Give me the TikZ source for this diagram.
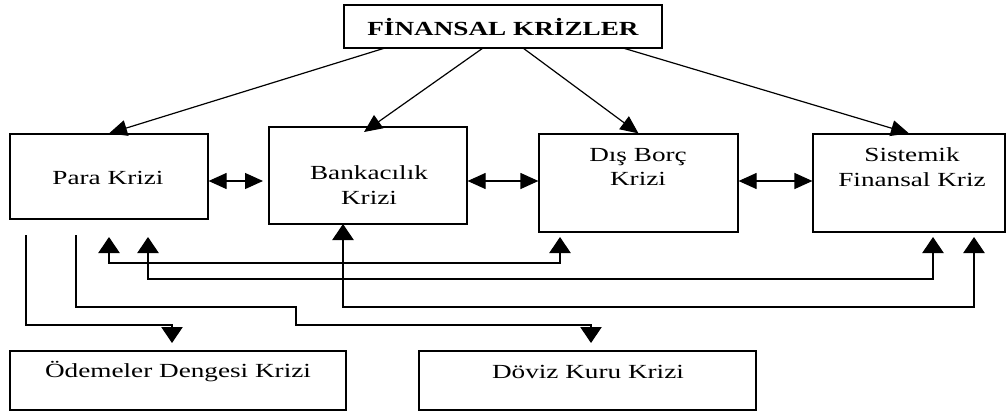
\documentclass[tikz,border=0pt]{standalone}
\usepackage{fontspec}
\setmainfont[FakeStretch=1.36]{Liberation Serif}
\usetikzlibrary{arrows.meta,fit}
\begin{document}
\begin{tikzpicture}[x=0.75pt,y=-0.75pt,
  box/.style={draw,line width=0.9pt,inner sep=0pt},
  lbl/.style={font=\fontsize{15}{18.5}\selectfont,align=center,inner sep=0pt},
  vtip/.tip={Triangle[length=12pt,width=16pt]},
  htip/.tip={Triangle[length=13.5pt,width=12pt]},
  dtip/.tip={Triangle[length=13.5pt,width=12pt]},
  dconn/.style={line width=0.9pt,-dtip},
  hconn/.style={line width=0.9pt,htip-htip},
  vconn/.style={line width=0.9pt,-vtip},
  vdconn/.style={line width=0.9pt,vtip-vtip}]
\useasboundingbox (0,0) rectangle (1006,414);
% boxes
\node[box,fit={(344,5) (662,48)}] (top) {};
\node[box,fit={(10,134) (208,219)}] (para) {};
\node[box,fit={(269,127) (467,224)}] (bank) {};
\node[box,fit={(539,134) (738,232)}] (dis) {};
\node[box,fit={(813,134) (1005,232)}] (sist) {};
\node[box,fit={(10,351) (346,410)}] (odeme) {};
\node[box,fit={(419,351) (756,410)}] (doviz) {};
% labels
\node[lbl,font=\fontsize{15}{18.5}\selectfont\bfseries] (ttop) at (503,27) {FİNANSAL KRİZLER};
\node[lbl] (tpara) at (108,178) {Para Krizi};
\node[lbl] (tbank) at (369,185) {Bankacılık\\Krizi};
\node[lbl] (tdis) at (638,167) {Dış Borç\\Krizi};
\node[lbl] (tsist) at (912,167) {Sistemik\\Finansal Kriz};
\node[lbl] (todeme) at (178,372) {Ödemeler Dengesi Krizi};
\node[lbl] (tdoviz) at (588,372) {Döviz Kuru Krizi};
% top arrows
\coordinate (t1) at (385,48);
\coordinate (t2) at (483,48);
\coordinate (t3) at (523,48);
\coordinate (t4) at (623,48);
\coordinate (b2) at (364,132);
\draw[dconn] (t1) -- (para.north);
\draw[dconn] (t2) -- (b2);
\draw[dconn] (t3) -- (dis.north);
\draw[dconn] (t4) -- (sist.north);
% horizontal double arrows
\coordinate (h) at (0,181);
\coordinate (bw) at (263,181);
\draw[hconn] (para.east |- h) -- (bw);
\draw[hconn] (bank.east |- h) -- (dis.west |- h);
\draw[hconn] (dis.east |- h) -- (sist.west |- h);
% lower connectors
\coordinate (a1) at (26,235);
\coordinate (e1) at (172,343);
\draw[vconn] (a1) -- (26,325) -- (172,325) -- (e1);
\coordinate (a2) at (76,235);
\coordinate (e2) at (591,343);
\draw[vconn] (a2) -- (76,307) -- (296,307) -- (296,325) -- (591,325) -- (e2);
\coordinate (u1) at (109,237);
\coordinate (u2) at (560,237);
\draw[vdconn] (u1) -- (109,263) -- (560,263) -- (u2);
\coordinate (u3) at (148,237);
\coordinate (u4) at (933,237);
\draw[vdconn] (u3) -- (148,279) -- (933,279) -- (u4);
\coordinate (u5) at (343,224);
\coordinate (u6) at (974,237);
\draw[vdconn] (u5) -- (343,307) -- (974,307) -- (u6);
\end{tikzpicture}
\end{document}
